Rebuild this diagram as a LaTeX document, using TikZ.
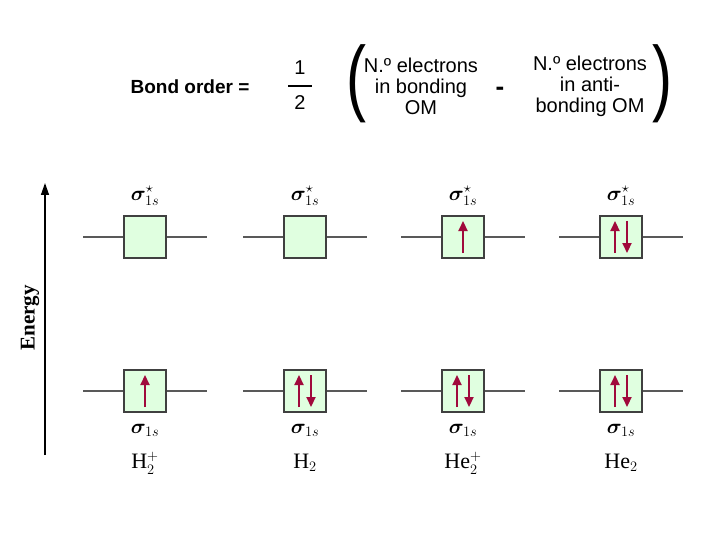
\documentclass[tikz,border=0pt]{standalone}
\usepackage{amsmath,amssymb}
\usepackage{bm}
\usepackage{fontspec}
\setmainfont{Liberation Sans}
\newfontfamily\serifA{Liberation Serif}
\usetikzlibrary{arrows.meta}
\begin{document}
\begin{tikzpicture}[x=1pt,y=-1pt,
  orb/.style={draw=black!75,fill=green!12!white,line width=1.3pt,minimum size=42pt,inner sep=0pt},
  lvl/.style={draw=black!65,line width=1.2pt},
  spin/.style={draw={rgb,255:red,160;green,10;blue,60},line width=2.2pt,-{Triangle[length=10pt,width=9pt]}},
  lab/.style={font=\serifA\fontsize{22}{22}\selectfont},
  txt/.style={font=\fontsize{20}{21}\selectfont,align=center}]
\useasboundingbox (0,0) rectangle (720,540);
\node[txt,font=\bfseries\fontsize{19}{21}\selectfont] (bo) at (190,87) {Bond order =};
\node[txt] (one) at (300,68) {1};
\node[txt] (two) at (300,103) {2};
\draw[line width=1.5pt] (288,86) -- (312,86);
\node[font=\fontsize{60}{60}\selectfont,yscale=1.4] (lp) at (356,84) {(};
\node[font=\fontsize{60}{60}\selectfont,yscale=1.4] (rp) at (662,84) {)};
\node[txt] (b) at (421,86) {N.º electrons\\in bonding\\OM};
\node[txt,font=\bfseries\fontsize{26}{26}\selectfont] (m) at (500,91) {-};
\node[txt] (ab) at (590,86) {N.º electrons\\in anti-\\bonding OM};
\draw[line width=1.4pt,-{Triangle[length=12pt,width=8pt]}] (45,455) coordinate (e0) -- (45,183) coordinate (e1);
\node[lab,rotate=90,font=\serifA\bfseries\fontsize{21}{21}\selectfont] (en) at (30,318) {Energy};
\foreach \i/\x/\top/\bot/\name in {1/145/0/1/{H$_2^+$},2/305/0/2/{H$_2$},3/463/1/2/{He$_2^+$},4/621/2/2/{He$_2$}}{
  \draw[lvl] (\x-62,237) -- (\x+62,237);
  \draw[lvl] (\x-62,391) -- (\x+62,391);
  \node[orb] (t\i) at (\x,237) {};
  \node[orb] (u\i) at (\x,391) {};
  \node[lab] (st\i) at (\x,196) {$\bm{\sigma}^{\star}_{1s}$};
  \node[lab] (sb\i) at (\x,430) {$\bm{\sigma}_{1s}$};
  \node[lab] (n\i) at (\x,463) {\name};
  \ifnum\top=1 \draw[spin] (\x,253) -- (\x,221); \fi
  \ifnum\top=2 \draw[spin] (\x-6,253) -- (\x-6,221); \draw[spin] (\x+6,221) -- (\x+6,253); \fi
  \ifnum\bot=1 \draw[spin] (\x,407) -- (\x,375); \fi
  \ifnum\bot=2 \draw[spin] (\x-6,407) -- (\x-6,375); \draw[spin] (\x+6,375) -- (\x+6,407); \fi
}
\end{tikzpicture}
\end{document}
